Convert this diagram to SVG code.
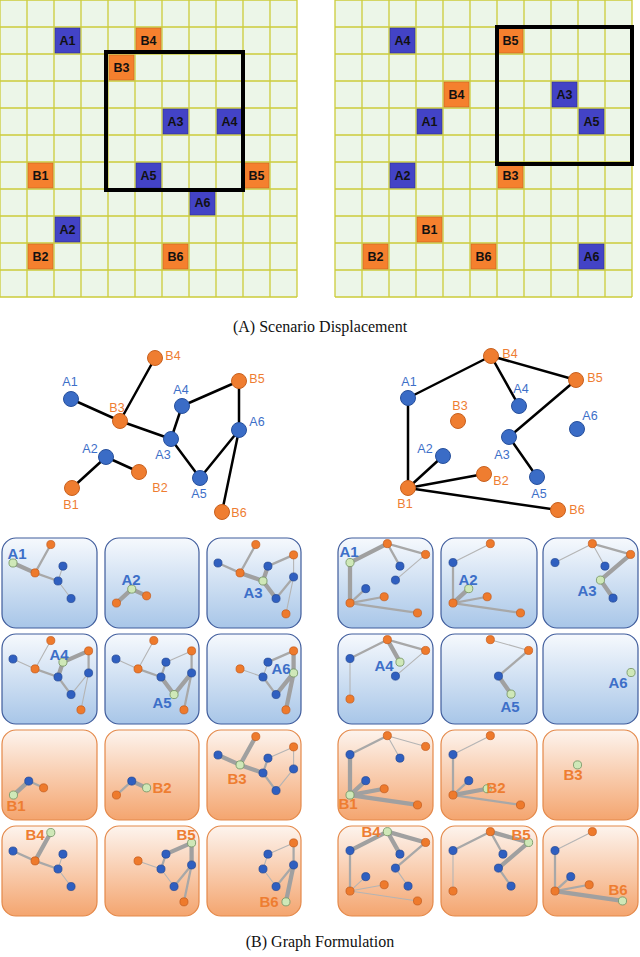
<svg xmlns="http://www.w3.org/2000/svg" xmlns:xlink="http://www.w3.org/1999/xlink" width="640" height="957" viewBox="0 0 640 957">
<style>
.gbg{fill:#ecf6e8}
.gl{stroke:#cccc3a;stroke-width:1.3;fill:none}
.box{fill:none;stroke:#000;stroke-width:4}
.ca{fill:#4343c6;stroke:#2f2f90;stroke-width:.6}
.cb{fill:#f5802e;stroke:#c5621c;stroke-width:.6}
.ct{font-family:"Liberation Sans",Arial,sans-serif;font-weight:bold;font-size:12.5px;fill:#111;text-anchor:middle}
.ed{stroke:#000;stroke-width:2.5;fill:none}
.na{fill:#3a6cc6;stroke:#27509c;stroke-width:1}
.nb{fill:#ef7d30;stroke:#c8611f;stroke-width:1}
.la{font-family:"Liberation Sans",Arial,sans-serif;font-size:12.5px;fill:#3d6fc8;text-anchor:middle}
.lb{font-family:"Liberation Sans",Arial,sans-serif;font-size:12.5px;fill:#ee7d31;text-anchor:middle}
.pa{fill:url(#gA);stroke:#3f5c9c;stroke-width:1.2}
.pb{fill:url(#gB);stroke:#e4894a;stroke-width:1.2}
.t1{stroke:#b4b4b4;stroke-width:2.4;fill:none}
.t2{stroke:#a8a8a8;stroke-width:5;fill:none}
.t3{stroke:#a0a0a0;stroke-width:9.5;fill:none;stroke-linecap:round}
.ma{fill:#2f5fc0;stroke:#1f4490;stroke-width:1.5}
.mb{fill:#ee7a2c;stroke:#c0581a;stroke-width:1.5}
.mf{fill:#cfe8b8;stroke:#7a9a6a;stroke-width:2}
.pl{font-family:"Liberation Sans",Arial,sans-serif;font-weight:bold;font-size:15px;text-anchor:middle}
.cap{font-family:"Liberation Serif","Times New Roman",serif;font-size:16px;fill:#111;text-anchor:middle}
</style>
<defs>
<linearGradient id="gA" x1="0" y1="0" x2="0" y2="1"><stop offset="0" stop-color="#f6f9fd"/><stop offset="1" stop-color="#a8c6e8"/></linearGradient>
<linearGradient id="gB" x1="0" y1="0" x2="0" y2="1"><stop offset="0" stop-color="#fdf4ee"/><stop offset="1" stop-color="#f4a56f"/></linearGradient>
<circle id="lA1" cx="71" cy="399" r="9"/><circle id="lA2" cx="106" cy="457" r="9"/><circle id="lA3" cx="171" cy="439" r="9"/>
<circle id="lA4" cx="182" cy="406" r="9"/><circle id="lA5" cx="200" cy="478" r="9"/><circle id="lA6" cx="239" cy="430" r="9"/>
<circle id="lB1" cx="72" cy="488" r="9"/><circle id="lB2" cx="139" cy="472" r="9"/><circle id="lB3" cx="120" cy="421" r="9"/>
<circle id="lB4" cx="155" cy="358" r="9"/><circle id="lB5" cx="239" cy="381" r="9"/><circle id="lB6" cx="222" cy="512" r="9"/>
<circle id="rA1" cx="408" cy="398" r="9"/><circle id="rA2" cx="443" cy="456" r="9"/><circle id="rA3" cx="509" cy="437" r="9"/>
<circle id="rA4" cx="519" cy="406" r="9"/><circle id="rA5" cx="537" cy="477" r="9"/><circle id="rA6" cx="577" cy="429" r="9"/>
<circle id="rB1" cx="408" cy="488" r="9"/><circle id="rB2" cx="484" cy="474" r="9"/><circle id="rB3" cx="458" cy="421" r="9"/>
<circle id="rB4" cx="491" cy="356" r="9"/><circle id="rB5" cx="576" cy="380" r="9"/><circle id="rB6" cx="558" cy="510" r="9"/>
<path id="grid" d="M0 0V297M27 0V297M54 0V297M81 0V297M108 0V297M135 0V297M162 0V297M189 0V297M216 0V297M243 0V297M270 0V297M297 0V297M0 0H297M0 27H297M0 54H297M0 81H297M0 108H297M0 135H297M0 162H297M0 189H297M0 216H297M0 243H297M0 270H297M0 297H297"/>
</defs>

<g id="grid-left">
<rect class="gbg" x="0" y="0" width="297" height="297"/>
<use href="#grid" class="gl"/>
<rect class="ca" x="55" y="28" width="25" height="25"/><text class="ct" x="67.5" y="45">A1</text>
<rect class="cb" x="136" y="28" width="25" height="25"/><text class="ct" x="148.5" y="45">B4</text>
<rect class="cb" x="109" y="55" width="25" height="25"/><text class="ct" x="121.5" y="72">B3</text>
<rect class="ca" x="163" y="109" width="25" height="25"/><text class="ct" x="175.5" y="126">A3</text>
<rect class="ca" x="217" y="109" width="25" height="25"/><text class="ct" x="229.5" y="126">A4</text>
<rect class="cb" x="28" y="163" width="25" height="25"/><text class="ct" x="40.5" y="180">B1</text>
<rect class="ca" x="136" y="163" width="25" height="25"/><text class="ct" x="148.5" y="180">A5</text>
<rect class="cb" x="244" y="163" width="25" height="25"/><text class="ct" x="256.5" y="180">B5</text>
<rect class="ca" x="190" y="190" width="25" height="25"/><text class="ct" x="202.5" y="207">A6</text>
<rect class="ca" x="55" y="217" width="25" height="25"/><text class="ct" x="67.5" y="234">A2</text>
<rect class="cb" x="28" y="244" width="25" height="25"/><text class="ct" x="40.5" y="261">B2</text>
<rect class="cb" x="163" y="244" width="25" height="25"/><text class="ct" x="175.5" y="261">B6</text>
<rect class="box" x="106" y="52" width="137" height="138"/>
</g>

<g id="grid-right" transform="translate(335,0)">
<rect class="gbg" x="0" y="0" width="297" height="297"/>
<use href="#grid" class="gl"/>
<rect class="ca" x="55" y="28" width="25" height="25"/><text class="ct" x="67.5" y="45">A4</text>
<rect class="cb" x="163" y="28" width="25" height="25"/><text class="ct" x="175.5" y="45">B5</text>
<rect class="cb" x="109" y="82" width="25" height="25"/><text class="ct" x="121.5" y="99">B4</text>
<rect class="ca" x="217" y="82" width="25" height="25"/><text class="ct" x="229.5" y="99">A3</text>
<rect class="ca" x="82" y="109" width="25" height="25"/><text class="ct" x="94.5" y="126">A1</text>
<rect class="ca" x="244" y="109" width="25" height="25"/><text class="ct" x="256.5" y="126">A5</text>
<rect class="ca" x="55" y="163" width="25" height="25"/><text class="ct" x="67.5" y="180">A2</text>
<rect class="cb" x="163" y="163" width="25" height="25"/><text class="ct" x="175.5" y="180">B3</text>
<rect class="cb" x="82" y="217" width="25" height="25"/><text class="ct" x="94.5" y="234">B1</text>
<rect class="cb" x="28" y="244" width="25" height="25"/><text class="ct" x="40.5" y="261">B2</text>
<rect class="cb" x="136" y="244" width="25" height="25"/><text class="ct" x="148.5" y="261">B6</text>
<rect class="ca" x="244" y="244" width="25" height="25"/><text class="ct" x="256.5" y="261">A6</text>
<rect class="box" x="162" y="27" width="135" height="137"/>
</g>

<text class="cap" x="320" y="332">(A) Scenario Displacement</text>

<g id="connectors">
<path class="ed" d="M71 399L120 421M120 421L155 358M120 421L171 439M171 439L182 406M182 406L239 381M239 381L239 430M171 439L200 478M200 478L239 430M239 430L222 512M106 457L72 488M106 457L139 472"/>
<path class="ed" d="M408 398L491 356M491 356L519 406M491 356L576 380M576 380L509 437M509 437L537 477M408 398L408 488M408 488L443 456M408 488L484 474M408 488L558 510"/>
</g>

<g id="graph-left">
<g id="L-A1"><circle class="na" cx="71" cy="399" r="7.5"/><text class="la" x="70" y="386">A1</text></g>
<g id="L-A2"><circle class="na" cx="106" cy="457" r="7.5"/><text class="la" x="90" y="453">A2</text></g>
<g id="L-A3"><circle class="na" cx="171" cy="439" r="7.5"/><text class="la" x="163" y="459">A3</text></g>
<g id="L-A4"><circle class="na" cx="182" cy="406" r="7.5"/><text class="la" x="181" y="394">A4</text></g>
<g id="L-A5"><circle class="na" cx="200" cy="478" r="7.5"/><text class="la" x="199" y="498">A5</text></g>
<g id="L-A6"><circle class="na" cx="239" cy="430" r="7.5"/><text class="la" x="257" y="426">A6</text></g>
<g id="L-B1"><circle class="nb" cx="72" cy="488" r="7.5"/><text class="lb" x="71" y="509">B1</text></g>
<g id="L-B2"><circle class="nb" cx="139" cy="472" r="7.5"/><text class="lb" x="160" y="492">B2</text></g>
<g id="L-B3"><circle class="nb" cx="120" cy="421" r="7.5"/><text class="lb" x="117" y="412">B3</text></g>
<g id="L-B4"><circle class="nb" cx="155" cy="358" r="7.5"/><text class="lb" x="173" y="360">B4</text></g>
<g id="L-B5"><circle class="nb" cx="239" cy="381" r="7.5"/><text class="lb" x="257" y="383">B5</text></g>
<g id="L-B6"><circle class="nb" cx="222" cy="512" r="7.5"/><text class="lb" x="239" y="517">B6</text></g>
</g>
<g id="graph-right">
<g id="R-A1"><circle class="na" cx="408" cy="398" r="7.5"/><text class="la" x="409" y="386">A1</text></g>
<g id="R-A2"><circle class="na" cx="443" cy="456" r="7.5"/><text class="la" x="425" y="453">A2</text></g>
<g id="R-A3"><circle class="na" cx="509" cy="437" r="7.5"/><text class="la" x="502" y="459">A3</text></g>
<g id="R-A4"><circle class="na" cx="519" cy="406" r="7.5"/><text class="la" x="521" y="393">A4</text></g>
<g id="R-A5"><circle class="na" cx="537" cy="477" r="7.5"/><text class="la" x="539" y="498">A5</text></g>
<g id="R-A6"><circle class="na" cx="577" cy="429" r="7.5"/><text class="la" x="590" y="420">A6</text></g>
<g id="R-B1"><circle class="nb" cx="408" cy="488" r="7.5"/><text class="lb" x="405" y="508">B1</text></g>
<g id="R-B2"><circle class="nb" cx="484" cy="474" r="7.5"/><text class="lb" x="501" y="485">B2</text></g>
<g id="R-B3"><circle class="nb" cx="458" cy="421" r="7.5"/><text class="lb" x="460" y="410">B3</text></g>
<g id="R-B4"><circle class="nb" cx="491" cy="356" r="7.5"/><text class="lb" x="510" y="358">B4</text></g>
<g id="R-B5"><circle class="nb" cx="576" cy="380" r="7.5"/><text class="lb" x="595" y="382">B5</text></g>
<g id="R-B6"><circle class="nb" cx="558" cy="510" r="7.5"/><text class="lb" x="577" y="514">B6</text></g>
</g>

<!-- left panels -->
<g id="pL-A1"><rect class="pa" x="2" y="538" width="95" height="90" rx="14"/>
<g transform="translate(-18.95,383.45) scale(.45)"><path class="t1" d="M171 439L182 406M171 439L200 478"/><path class="t2" d="M120 421L155 358M120 421L171 439"/><path class="t3" d="M71 399L120 421"/>
<g class="mb"><use href="#lB3"/><use href="#lB4"/></g><g class="ma"><use href="#lA3"/><use href="#lA4"/><use href="#lA5"/></g><use class="mf" href="#lA1"/></g>
<text class="pl" fill="#3d6fc8" x="17" y="559">A1</text></g>
<g id="pL-A2"><rect class="pa" x="105" y="538" width="94" height="90" rx="14"/>
<g transform="translate(84.05,383.45) scale(.45)"><path class="t3" d="M106 457L72 488M106 457L139 472"/>
<g class="mb"><use href="#lB1"/><use href="#lB2"/></g><use class="mf" href="#lA2"/></g>
<text class="pl" fill="#3d6fc8" x="131" y="585">A2</text></g>
<g id="pL-A3"><rect class="pa" x="207" y="538" width="94" height="90" rx="14"/>
<g transform="translate(186.05,383.45) scale(.45)"><path class="t1" d="M239 381L239 430M239 430L222 512"/><path class="t2" d="M71 399L120 421M120 421L155 358M182 406L239 381M200 478L239 430"/><path class="t3" d="M120 421L171 439M171 439L182 406M171 439L200 478"/>
<g class="mb"><use href="#lB3"/><use href="#lB4"/><use href="#lB5"/><use href="#lB6"/></g><g class="ma"><use href="#lA1"/><use href="#lA4"/><use href="#lA5"/><use href="#lA6"/></g><use class="mf" href="#lA3"/></g>
<text class="pl" fill="#3d6fc8" x="253" y="598">A3</text></g>
<g id="pL-A4"><rect class="pa" x="2" y="634" width="95" height="90" rx="14"/>
<g transform="translate(-18.95,479.45) scale(.45)"><path class="t1" d="M71 399L120 421M120 421L155 358M200 478L239 430M239 430L222 512"/><path class="t2" d="M120 421L171 439M171 439L200 478M239 381L239 430"/><path class="t3" d="M171 439L182 406M182 406L239 381"/>
<g class="mb"><use href="#lB3"/><use href="#lB4"/><use href="#lB5"/><use href="#lB6"/></g><g class="ma"><use href="#lA1"/><use href="#lA3"/><use href="#lA5"/><use href="#lA6"/></g><use class="mf" href="#lA4"/></g>
<text class="pl" fill="#3d6fc8" x="59" y="660">A4</text></g>
<g id="pL-A5"><rect class="pa" x="105" y="634" width="94" height="90" rx="14"/>
<g transform="translate(84.05,479.45) scale(.45)"><path class="t1" d="M71 399L120 421M120 421L155 358M182 406L239 381"/><path class="t2" d="M120 421L171 439M171 439L182 406M239 381L239 430M239 430L222 512"/><path class="t3" d="M171 439L200 478M200 478L239 430"/>
<g class="mb"><use href="#lB3"/><use href="#lB4"/><use href="#lB5"/><use href="#lB6"/></g><g class="ma"><use href="#lA1"/><use href="#lA3"/><use href="#lA4"/><use href="#lA6"/></g><use class="mf" href="#lA5"/></g>
<text class="pl" fill="#3d6fc8" x="162" y="708">A5</text></g>
<g id="pL-A6"><rect class="pa" x="207" y="634" width="94" height="90" rx="14"/>
<g transform="translate(186.05,479.45) scale(.45)"><path class="t1" d="M171 439L182 406M120 421L171 439"/><path class="t2" d="M182 406L239 381M171 439L200 478"/><path class="t3" d="M239 381L239 430M200 478L239 430M239 430L222 512"/>
<g class="mb"><use href="#lB3"/><use href="#lB5"/><use href="#lB6"/></g><g class="ma"><use href="#lA3"/><use href="#lA4"/><use href="#lA5"/></g><use class="mf" href="#lA6"/></g>
<text class="pl" fill="#3d6fc8" x="281" y="674">A6</text></g>
<g id="pL-B1"><rect class="pb" x="2" y="730" width="95" height="90" rx="14"/>
<g transform="translate(-18.95,575.45) scale(.45)"><path class="t2" d="M106 457L139 472"/><path class="t3" d="M106 457L72 488"/>
<g class="mb"><use href="#lB2"/></g><g class="ma"><use href="#lA2"/></g><use class="mf" href="#lB1"/></g>
<text class="pl" fill="#ee7d31" x="16" y="811">B1</text></g>
<g id="pL-B2"><rect class="pb" x="105" y="730" width="94" height="90" rx="14"/>
<g transform="translate(84.05,575.45) scale(.45)"><path class="t2" d="M106 457L72 488"/><path class="t3" d="M106 457L139 472"/>
<g class="mb"><use href="#lB1"/></g><g class="ma"><use href="#lA2"/></g><use class="mf" href="#lB2"/></g>
<text class="pl" fill="#ee7d31" x="162" y="793">B2</text></g>
<g id="pL-B3"><rect class="pb" x="207" y="730" width="94" height="90" rx="14"/>
<g transform="translate(186.05,575.45) scale(.45)"><path class="t1" d="M182 406L239 381M200 478L239 430M239 381L239 430"/><path class="t2" d="M171 439L182 406M171 439L200 478"/><path class="t3" d="M71 399L120 421M120 421L155 358M120 421L171 439"/>
<g class="mb"><use href="#lB4"/><use href="#lB5"/></g><g class="ma"><use href="#lA1"/><use href="#lA3"/><use href="#lA4"/><use href="#lA5"/><use href="#lA6"/></g><use class="mf" href="#lB3"/></g>
<text class="pl" fill="#ee7d31" x="237" y="784">B3</text></g>
<g id="pL-B4"><rect class="pb" x="2" y="826" width="95" height="90" rx="14"/>
<g transform="translate(-18.95,671.45) scale(.45)"><path class="t1" d="M171 439L182 406M171 439L200 478"/><path class="t2" d="M71 399L120 421M120 421L171 439"/><path class="t3" d="M120 421L155 358"/>
<g class="mb"><use href="#lB3"/></g><g class="ma"><use href="#lA1"/><use href="#lA3"/><use href="#lA4"/><use href="#lA5"/></g><use class="mf" href="#lB4"/></g>
<text class="pl" fill="#ee7d31" x="35" y="840">B4</text></g>
<g id="pL-B5"><rect class="pb" x="105" y="826" width="94" height="90" rx="14"/>
<g transform="translate(84.05,671.45) scale(.45)"><path class="t1" d="M120 421L171 439M171 439L200 478"/><path class="t2" d="M171 439L182 406M200 478L239 430M239 430L222 512"/><path class="t3" d="M182 406L239 381M239 381L239 430"/>
<g class="mb"><use href="#lB3"/><use href="#lB6"/></g><g class="ma"><use href="#lA3"/><use href="#lA4"/><use href="#lA5"/><use href="#lA6"/></g><use class="mf" href="#lB5"/></g>
<text class="pl" fill="#ee7d31" x="186" y="840">B5</text></g>
<g id="pL-B6"><rect class="pb" x="207" y="826" width="94" height="90" rx="14"/>
<g transform="translate(186.05,671.45) scale(.45)"><path class="t1" d="M182 406L239 381M171 439L200 478M171 439L182 406"/><path class="t2" d="M239 381L239 430M200 478L239 430"/><path class="t3" d="M239 430L222 512"/>
<g class="mb"><use href="#lB5"/></g><g class="ma"><use href="#lA3"/><use href="#lA4"/><use href="#lA5"/><use href="#lA6"/></g><use class="mf" href="#lB6"/></g>
<text class="pl" fill="#ee7d31" x="269" y="907">B6</text></g>

<!-- right panels -->
<g id="pR-A1"><rect class="pa" x="338" y="538" width="95" height="90" rx="14"/>
<g transform="translate(166.4,383.45) scale(.45)"><path class="t1" d="M576 380L509 437"/><path class="t2" d="M491 356L519 406M491 356L576 380M408 488L443 456M408 488L484 474M408 488L558 510"/><path class="t3" d="M408 398L491 356M408 398L408 488"/>
<g class="mb"><use href="#rB4"/><use href="#rB5"/><use href="#rB1"/><use href="#rB2"/><use href="#rB6"/></g><g class="ma"><use href="#rA4"/><use href="#rA3"/><use href="#rA2"/></g><use class="mf" href="#rA1"/></g>
<text class="pl" fill="#3d6fc8" x="349" y="557">A1</text></g>
<g id="pR-A2"><rect class="pa" x="441" y="538" width="96" height="90" rx="14"/>
<g transform="translate(269.4,383.45) scale(.45)"><path class="t1" d="M408 398L491 356"/><path class="t2" d="M408 398L408 488M408 488L484 474M408 488L558 510"/><path class="t3" d="M408 488L443 456"/>
<g class="mb"><use href="#rB4"/><use href="#rB1"/><use href="#rB2"/><use href="#rB6"/></g><g class="ma"><use href="#rA1"/></g><use class="mf" href="#rA2"/></g>
<text class="pl" fill="#3d6fc8" x="468" y="585">A2</text></g>
<g id="pR-A3"><rect class="pa" x="543" y="538" width="95" height="90" rx="14"/>
<g transform="translate(371.4,383.45) scale(.45)"><path class="t1" d="M408 398L491 356M491 356L519 406"/><path class="t2" d="M491 356L576 380"/><path class="t3" d="M576 380L509 437M509 437L537 477"/>
<g class="mb"><use href="#rB4"/><use href="#rB5"/></g><g class="ma"><use href="#rA1"/><use href="#rA4"/><use href="#rA5"/></g><use class="mf" href="#rA3"/></g>
<text class="pl" fill="#3d6fc8" x="587" y="596">A3</text></g>
<g id="pR-A4"><rect class="pa" x="338" y="634" width="95" height="90" rx="14"/>
<g transform="translate(166.4,479.45) scale(.45)"><path class="t1" d="M408 398L408 488M576 380L509 437"/><path class="t2" d="M408 398L491 356M491 356L576 380"/><path class="t3" d="M491 356L519 406"/>
<g class="mb"><use href="#rB4"/><use href="#rB5"/><use href="#rB1"/></g><g class="ma"><use href="#rA1"/><use href="#rA3"/></g><use class="mf" href="#rA4"/></g>
<text class="pl" fill="#3d6fc8" x="384" y="671">A4</text></g>
<g id="pR-A5"><rect class="pa" x="441" y="634" width="96" height="90" rx="14"/>
<g transform="translate(269.4,479.45) scale(.45)"><path class="t1" d="M491 356L576 380"/><path class="t2" d="M576 380L509 437"/><path class="t3" d="M509 437L537 477"/>
<g class="mb"><use href="#rB4"/><use href="#rB5"/></g><g class="ma"><use href="#rA3"/></g><use class="mf" href="#rA5"/></g>
<text class="pl" fill="#3d6fc8" x="510" y="712">A5</text></g>
<g id="pR-A6"><rect class="pa" x="543" y="634" width="95" height="90" rx="14"/>
<g transform="translate(371.4,479.45) scale(.45)"><use class="mf" href="#rA6"/></g>
<text class="pl" fill="#3d6fc8" x="618" y="688">A6</text></g>
<g id="pR-B1"><rect class="pb" x="338" y="730" width="95" height="90" rx="14"/>
<g transform="translate(166.4,575.45) scale(.45)"><path class="t1" d="M491 356L519 406M491 356L576 380"/><path class="t2" d="M408 398L491 356"/><path class="t3" d="M408 398L408 488M408 488L443 456M408 488L484 474M408 488L558 510"/>
<g class="mb"><use href="#rB4"/><use href="#rB5"/><use href="#rB2"/><use href="#rB6"/></g><g class="ma"><use href="#rA1"/><use href="#rA4"/><use href="#rA2"/></g><use class="mf" href="#rB1"/></g>
<text class="pl" fill="#ee7d31" x="348" y="809">B1</text></g>
<g id="pR-B2"><rect class="pb" x="441" y="730" width="96" height="90" rx="14"/>
<g transform="translate(269.4,575.45) scale(.45)"><path class="t1" d="M408 398L491 356"/><path class="t2" d="M408 398L408 488M408 488L443 456M408 488L558 510"/><path class="t3" d="M408 488L484 474"/>
<g class="mb"><use href="#rB4"/><use href="#rB1"/><use href="#rB6"/></g><g class="ma"><use href="#rA1"/><use href="#rA2"/></g><use class="mf" href="#rB2"/></g>
<text class="pl" fill="#ee7d31" x="496" y="793">B2</text></g>
<g id="pR-B3"><rect class="pb" x="543" y="730" width="95" height="90" rx="14"/>
<g transform="translate(371.4,575.45) scale(.45)"><use class="mf" href="#rB3"/></g>
<text class="pl" fill="#ee7d31" x="573" y="780">B3</text></g>
<g id="pR-B4"><rect class="pb" x="338" y="826" width="95" height="90" rx="14"/>
<g transform="translate(166.4,671.45) scale(.45)"><path class="t1" d="M408 488L443 456M408 488L484 474M408 488L558 510M509 437L537 477"/><path class="t2" d="M408 398L408 488M576 380L509 437"/><path class="t3" d="M408 398L491 356M491 356L519 406M491 356L576 380"/>
<g class="mb"><use href="#rB5"/><use href="#rB1"/><use href="#rB2"/><use href="#rB6"/></g><g class="ma"><use href="#rA1"/><use href="#rA4"/><use href="#rA3"/><use href="#rA5"/><use href="#rA2"/></g><use class="mf" href="#rB4"/></g>
<text class="pl" fill="#ee7d31" x="371" y="837">B4</text></g>
<g id="pR-B5"><rect class="pb" x="441" y="826" width="96" height="90" rx="14"/>
<g transform="translate(269.4,671.45) scale(.45)"><path class="t1" d="M408 398L408 488"/><path class="t2" d="M408 398L491 356M491 356L519 406M509 437L537 477"/><path class="t3" d="M491 356L576 380M576 380L509 437"/>
<g class="mb"><use href="#rB4"/><use href="#rB1"/></g><g class="ma"><use href="#rA1"/><use href="#rA4"/><use href="#rA3"/><use href="#rA5"/></g><use class="mf" href="#rB5"/></g>
<text class="pl" fill="#ee7d31" x="521" y="840">B5</text></g>
<g id="pR-B6"><rect class="pb" x="543" y="826" width="95" height="90" rx="14"/>
<g transform="translate(371.4,671.45) scale(.45)"><path class="t1" d="M408 398L491 356"/><path class="t2" d="M408 398L408 488M408 488L443 456M408 488L484 474"/><path class="t3" d="M408 488L558 510"/>
<g class="mb"><use href="#rB4"/><use href="#rB1"/><use href="#rB2"/></g><g class="ma"><use href="#rA1"/><use href="#rA2"/></g><use class="mf" href="#rB6"/></g>
<text class="pl" fill="#ee7d31" x="618" y="895">B6</text></g>

<text class="cap" x="320" y="947">(B) Graph Formulation</text>
</svg>
